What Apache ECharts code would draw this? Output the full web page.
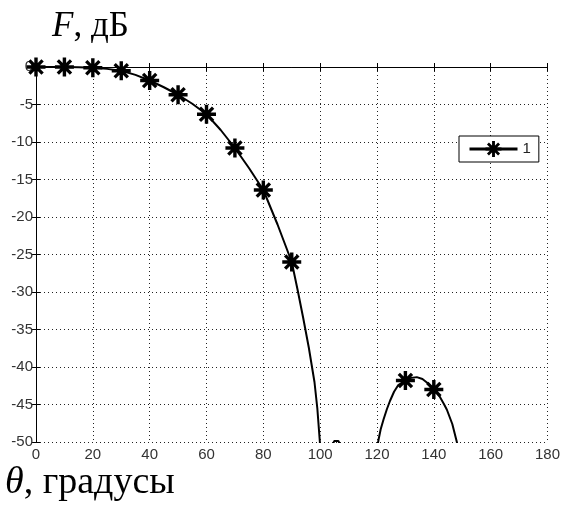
<!DOCTYPE html>
<html>
<head>
<meta charset="utf-8">
<script src="https://cdn.jsdelivr.net/npm/echarts@6/dist/echarts.min.js"></script>
<style>
  html, body { margin: 0; padding: 0; background: #fff; }
  #chart { width: 563px; height: 508px; }
</style>
</head>
<body>
<div id="chart"></div>
<script>
// Radiation pattern F(θ) in dB, sampled along θ (degrees)
const thetaDeg = [0, 5, 10, 15, 20, 25, 30, 35, 40, 45, 50, 55, 60, 65, 70, 75, 80, 85, 90,
  92, 94, 96, 98, 99, 99.9, 100.5, 101.5, 103, 104.2, 105, 105.7, 106.4, 107.2, 108, 110,
  114, 118, 119.4, 120, 120.6, 121.3, 122.3, 123.5, 124.6, 126, 127.5, 130, 132, 134, 136, 138, 140,
  142, 143.5, 144.6, 146.5, 148.1, 149.5, 152];
const patternDb = [0, 0, 0, -0.03, -0.1, -0.25, -0.5, -1.05, -1.8, -2.7, -3.7, -4.9, -6.3, -8.4, -10.8, -13.5, -16.4, -21.0, -26,
  -29.6, -33.4, -37.4, -42, -45.5, -50, -60, -56, -52, -50.5, -49.85, -49.7, -49.85, -50.5, -53, -60,
  -63, -56, -52, -50.8, -49.6, -48.3, -47.0, -45.6, -44.5, -43.3, -42.4, -41.8, -41.45, -41.35, -41.6, -42.2, -43,
  -43.9, -44.9, -45.7, -47.6, -50, -52.5, -60];
// Angles that carry a marker
const markerDeg = [0, 10, 20, 30, 40, 50, 60, 70, 80, 90, 100, 110, 120, 130, 140, 150];

const seriesName = '1';
const xTicks = { min: 0, max: 180, step: 20 };
const yTicks = { min: -50, max: 0, step: 5 };

// Asterisk marker: four bars (horizontal, vertical, two diagonals)
const starPath = 'path://M0 41L100 41L100 59L0 59Z' +
  'M41 0L59 0L59 100L41 100Z' +
  'M21.4 9.1L90.9 78.6L78.6 90.9L9.1 21.4Z' +
  'M78.6 9.1L90.9 21.4L21.4 90.9L9.1 78.6Z';

const seriesData = thetaDeg.map(function (t, i) {
  const item = { value: [t, patternDb[i]] };
  if (markerDeg.indexOf(t) < 0) item.symbol = 'none';
  return item;
});

const serif = 'Liberation Serif, Times New Roman, serif';
const tickFont = { fontFamily: 'Liberation Sans, Arial, sans-serif', fontSize: 15, color: '#333' };
const dotted = { color: '#222', width: 1, type: [1, 3] };

const chart = echarts.init(document.getElementById('chart'), null, { renderer: 'canvas' });
chart.setOption({
  animation: false,
  backgroundColor: '#fff',
  title: [
    {
      text: '{i|F}{r|, дБ}',
      left: 47, top: 4,
      textStyle: {
        rich: {
          i: { fontFamily: serif, fontStyle: 'italic', fontWeight: 'normal', fontSize: 35, color: '#000' },
          r: { fontFamily: serif, fontWeight: 'normal', fontSize: 35, color: '#000' }
        }
      }
    },
    {
      text: '{i|θ}{r|, градусы}',
      left: 0, top: 459,
      textStyle: {
        rich: {
          i: { fontFamily: serif, fontStyle: 'italic', fontWeight: 'normal', fontSize: 38, color: '#000' },
          r: { fontFamily: serif, fontWeight: 'normal', fontSize: 38, color: '#000' }
        }
      }
    }
  ],
  legend: {
    data: [seriesName],
    left: 459, top: 136,
    orient: 'vertical',
    padding: [5, 8, 5, 9],
    itemWidth: 48, itemHeight: 20, itemGap: 0,
    backgroundColor: '#fff',
    borderColor: '#000', borderWidth: 1, borderRadius: 0,
    lineStyle: { width: 3, color: '#000' },
    textStyle: { fontFamily: 'Liberation Sans, Arial, sans-serif', fontSize: 15, color: '#222' }
  },
  grid: { left: 36, right: 15, top: 67, bottom: 66, show: false },
  xAxis: [
    {
      type: 'value', position: 'bottom',
      min: xTicks.min, max: xTicks.max, interval: xTicks.step,
      axisLine: { show: true, lineStyle: { color: '#000', width: 1 } },
      axisTick: { show: true, inside: true, length: 4, lineStyle: { color: '#000' } },
      axisLabel: Object.assign({ margin: 5 }, tickFont),
      splitLine: { show: true, lineStyle: dotted }
    },
    {
      type: 'value', position: 'top',
      min: xTicks.min, max: xTicks.max, interval: xTicks.step,
      axisLine: { show: true, lineStyle: { color: '#000', width: 1 } },
      axisTick: { show: true, inside: true, length: 4, lineStyle: { color: '#000' } },
      axisLabel: { show: false },
      splitLine: { show: false }
    }
  ],
  yAxis: [
    {
      type: 'value', position: 'left',
      min: yTicks.min, max: yTicks.max, interval: yTicks.step,
      axisLine: { show: true, lineStyle: { color: '#000', width: 1 } },
      axisTick: { show: true, inside: true, length: 4, lineStyle: { color: '#000' } },
      axisLabel: Object.assign({ margin: 3 }, tickFont),
      splitLine: { show: true, lineStyle: dotted }
    },
    {
      type: 'value', position: 'right',
      min: yTicks.min, max: yTicks.max, interval: yTicks.step,
      axisLine: { show: true, lineStyle: { color: '#000', width: 1 } },
      axisTick: { show: true, inside: true, length: 4, lineStyle: { color: '#000' } },
      axisLabel: { show: false },
      splitLine: { show: false }
    }
  ],
  series: [
    {
      name: seriesName,
      type: 'line',
      xAxisIndex: 0, yAxisIndex: 0,
      data: seriesData,
      smooth: false,
      clip: true,
      symbol: starPath,
      symbolSize: 19,
      showAllSymbol: true,
      itemStyle: { color: '#000' },
      lineStyle: { color: '#000', width: 2 },
      emphasis: { disabled: true },
      z: 3
    }
  ]
});
</script>
</body>
</html>
